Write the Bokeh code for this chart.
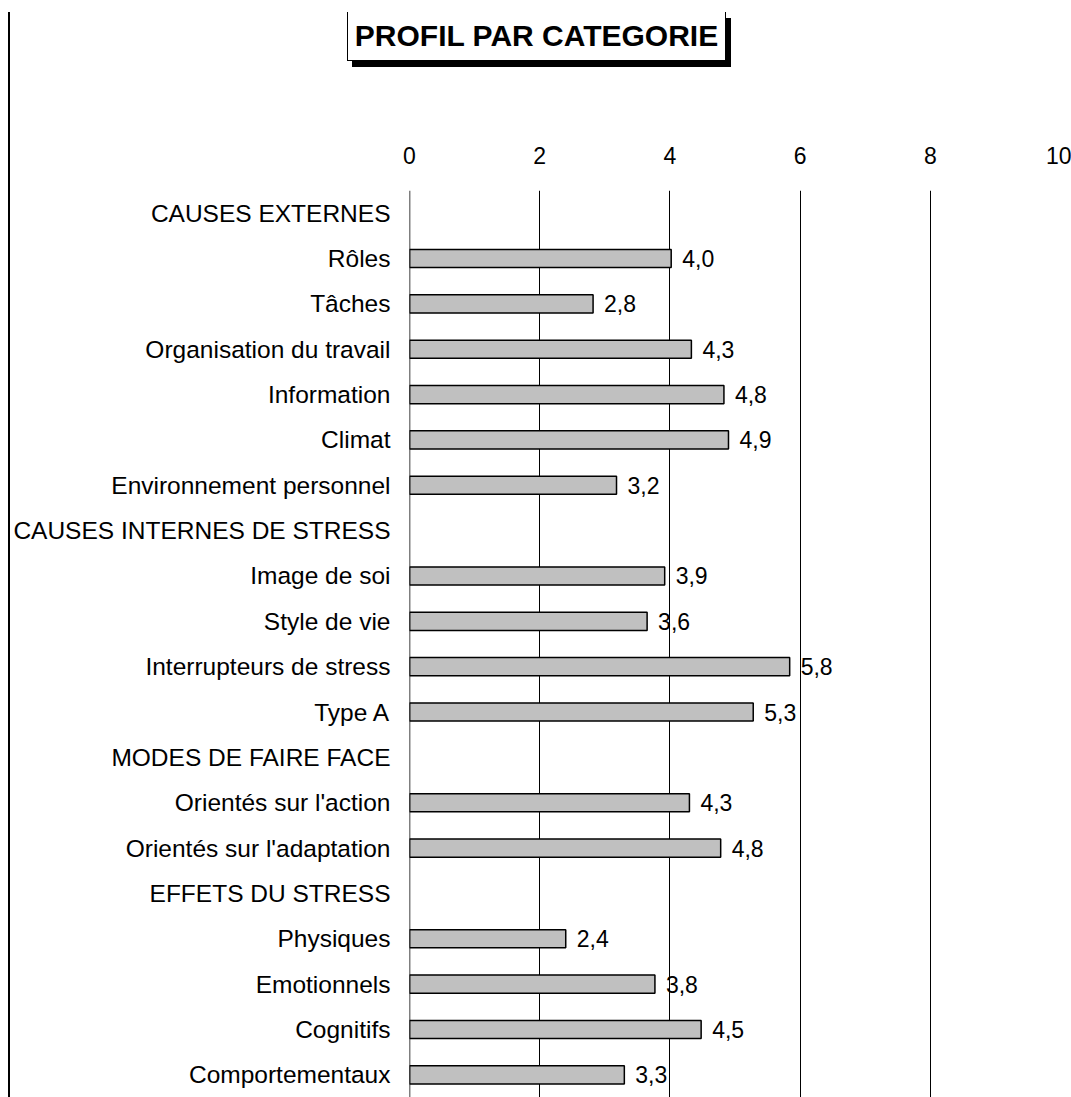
from bokeh.plotting import figure
from bokeh.models import ColumnDataSource, Range1d, FixedTicker, Span, Div
from bokeh.layouts import row, column
from bokeh.core.properties import value
from bokeh.embed import file_html
from bokeh.resources import INLINE

categories = [
    "CAUSES EXTERNES", "Rôles", "Tâches", "Organisation du travail", "Information",
    "Climat", "Environnement personnel", "CAUSES INTERNES DE STRESS", "Image de soi",
    "Style de vie", "Interrupteurs de stress", "Type A", "MODES DE FAIRE FACE",
    "Orientés sur l'action", "Orientés sur l'adaptation", "EFFETS DU STRESS",
    "Physiques", "Emotionnels", "Cognitifs", "Comportementaux",
]
values = [None, 4.02, 2.82, 4.33, 4.83, 4.9, 3.18, None, 3.92, 3.65, 5.84, 5.28,
          None, 4.3, 4.78, None, 2.4, 3.77, 4.48, 3.3]
value_labels = [None, "4,0", "2,8", "4,3", "4,8", "4,9", "3,2", None, "3,9", "3,6",
                "5,8", "5,3", None, "4,3", "4,8", None, "2,4", "3,8", "4,5", "3,3"]
x_ticks = [0, 2, 4, 6, 8, 10]
grid_ticks = [0, 2, 4, 6, 8]
title_text = "PROFIL PAR CATEGORIE"

ys, vs, ls = [], [], []
for i, (v, l) in enumerate(zip(values, value_labels)):
    if v is not None:
        ys.append(i)
        vs.append(v)
        ls.append(l)
src = ColumnDataSource(dict(y=ys, v=vs, lbl=ls))

FONT = "Liberation Sans"
LINE_W = 10        # width of the left strip holding the border line
TITLE_H = 100      # height of the title strip
MAIN_W = 1071 - LINE_W

p = figure(width=MAIN_W, height=1097 - TITLE_H, output_backend="svg", toolbar_location=None,
           x_range=Range1d(0, 10), y_range=Range1d(19.5, -0.5),
           x_axis_location="above", min_border_left=409 - LINE_W, min_border_right=11,
           min_border_top=190 - TITLE_H, min_border_bottom=0)
p.outline_line_color = None
p.background_fill_color = "white"
p.border_fill_color = "white"

p.ygrid.grid_line_color = None
p.xgrid.ticker = FixedTicker(ticks=grid_ticks)
p.xgrid.grid_line_color = "black"
p.xgrid.grid_line_width = 1
p.xgrid.grid_line_alpha = 1
p.add_layout(Span(location=0, dimension="height", line_color="black", line_width=1.5))

xa = p.xaxis[0]
xa.ticker = FixedTicker(ticks=x_ticks)
xa.axis_line_color = None
xa.major_tick_line_color = None
xa.minor_tick_line_color = None
xa.major_label_text_font = FONT
xa.major_label_text_font_size = "23px"
xa.major_label_text_color = "black"
xa.major_label_standoff = 21

ya = p.yaxis[0]
ya.ticker = FixedTicker(ticks=list(range(len(categories))))
ya.major_label_overrides = {i: c for i, c in enumerate(categories)}
ya.axis_line_color = None
ya.major_tick_line_color = None
ya.minor_tick_line_color = None
ya.major_label_text_font = FONT
ya.major_label_text_font_size = "24.5px"
ya.major_label_text_color = "black"
ya.major_label_standoff = 13

p.hbar(y="y", right="v", left=0, height=0.4, source=src,
       fill_color="#C0C0C0", line_color="black", line_width=1.5)
p.text(x="v", y="y", text="lbl", source=src, x_offset=11,
       text_baseline="middle", text_align="left",
       text_font=value(FONT), text_font_size="23px", text_color="black")

title_html = (
    f'<div style="position:relative;width:{MAIN_W}px;height:{TITLE_H}px;">'
    f'<div style="position:absolute;left:{347 - LINE_W}px;top:12px;width:379px;height:49px;'
    'box-sizing:border-box;background:white;border-left:1px solid black;'
    'border-right:1px solid black;border-bottom:1px solid black;'
    'box-shadow:5px 6px 0 0 black;text-align:center;line-height:48px;'
    f'font-family:\'{FONT}\';font-weight:bold;font-size:30px;color:black;white-space:nowrap;">'
    f'{title_text}</div></div>'
)
title_div = Div(text=title_html, width=MAIN_W, height=TITLE_H, margin=0)

line_html = (
    f'<div style="position:relative;width:{LINE_W}px;height:1097px;">'
    '<div style="position:absolute;left:8px;top:12px;width:2px;height:1085px;'
    'background:black;"></div></div>'
)
line_div = Div(text=line_html, width=LINE_W, height=1097, margin=0)

layout = row(line_div, column(title_div, p, spacing=0), spacing=0)

open("out.html", "w").write(file_html(layout, INLINE))
